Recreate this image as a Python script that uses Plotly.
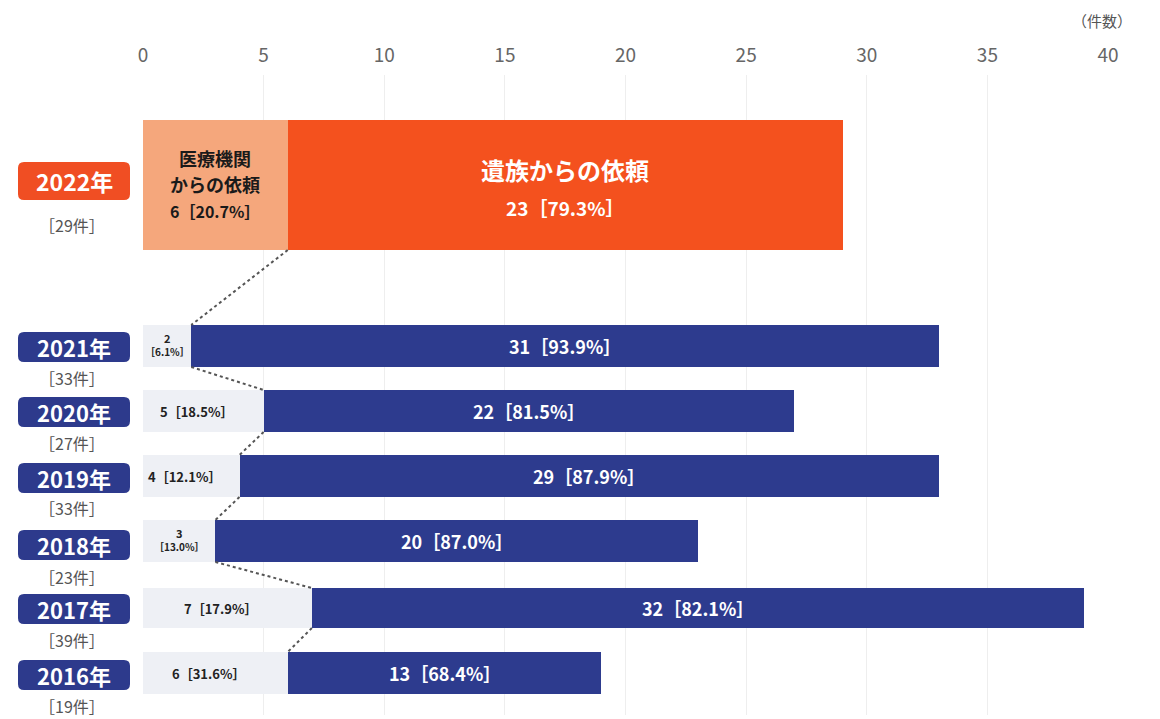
import plotly.graph_objects as go

# ---- data -------------------------------------------------------------
years = ["2022年", "2021年", "2020年", "2019年", "2018年", "2017年", "2016年"]
from_hospital = [6, 2, 5, 4, 3, 7, 6]        # 医療機関からの依頼
from_family = [23, 31, 22, 29, 20, 32, 13]   # 遺族からの依頼
tick_values = [0, 5, 10, 15, 20, 25, 30, 35, 40]

# ---- layout helpers ---------------------------------------------------
W, H = 1160, 719
ML, MR, MT, MB = 143, 52, 75, 4
PW, PH = W - ML - MR, H - MT - MB

row_center = [110, 271, 336, 401, 466, 533, 598]   # y units (reversed axis)
row_width = [130, 42, 42, 42, 42, 40, 42]
light_col = ["#f5a77c"] + ["#eef0f5"] * 6
dark_col = ["#f4511e"] + ["#2d3b8e"] * 6
box_col = ["#f04e23"] + ["#2d3a8c"] * 6
box_center = [181, 347, 412, 478, 545, 609, 675]   # page pixels
sub_center = [225, 378, 443, 508, 577, 640, 706]
FONT = "Noto Sans CJK JP"


def px(x):
    return (x - ML) / PW


def py(y):
    return 1 - (y - MT) / PH


def label(x, y, text, size, color, xref="x", yref="y"):
    return dict(x=x, y=y, xref=xref, yref=yref, showarrow=False, text=text,
                xanchor="center", yanchor="middle",
                font=dict(size=size, color=color, family=FONT))


totals = [a + b for a, b in zip(from_hospital, from_family)]

fig = go.Figure()
fig.add_trace(go.Bar(
    y=row_center, x=from_hospital, orientation="h", width=row_width,
    marker=dict(color=light_col, line=dict(width=0)), hoverinfo="skip",
    name="医療機関からの依頼"))
fig.add_trace(go.Bar(
    y=row_center, x=from_family, orientation="h", width=row_width,
    marker=dict(color=dark_col, line=dict(width=0)), hoverinfo="skip",
    name="遺族からの依頼"))

ann = []
shapes = []

for i, yr in enumerate(years):
    h, f, t = from_hospital[i], from_family[i], totals[i]
    ph, pf = f"{h / t * 100:.1f}%", f"{f / t * 100:.1f}%"
    yc = row_center[i]
    if i == 0:
        ann.append(label(h / 2, yc - 27, "<b>医療機関</b>", 18, "#1a1a1a"))
        ann.append(label(h / 2, yc - 1, "<b>からの依頼</b>", 18, "#1a1a1a"))
        ann.append(label(h / 2, yc + 26, f"<b>{h}［{ph}］</b>", 16, "#1a1a1a"))
        ann.append(label(h + f / 2, yc - 16, "<b>遺族からの依頼</b>", 24, "white"))
        ann.append(label(h + f / 2, yc + 22, f"<b>{f}［{pf}］</b>", 19, "white"))
    else:
        if h <= 3:
            ann.append(label(h / 2, yc - 8, f"<b>{h}</b>", 11, "#222"))
            ann.append(label(h / 2, yc + 5, f"<b>［{ph}］</b>", 10, "#222"))
        else:
            ann.append(label(h / 2 - 0.3, yc, f"<b>{h}［{ph}］</b>", 13, "#222"))
        ann.append(label(h + f / 2, yc, f"<b>{f}［{pf}］</b>", 18, "white"))

    # rounded year badge
    bh = 38 if i == 0 else 30
    x0, x1 = px(18), px(130)
    y0, y1 = py(box_center[i] - bh / 2), py(box_center[i] + bh / 2)
    rx, ry = 6 / PW, 6 / PH
    path = (f"M {x0 + rx},{y0} L {x1 - rx},{y0} Q {x1},{y0} {x1},{y0 - ry} "
            f"L {x1},{y1 + ry} Q {x1},{y1} {x1 - rx},{y1} L {x0 + rx},{y1} "
            f"Q {x0},{y1} {x0},{y1 + ry} L {x0},{y0 - ry} Q {x0},{y0} {x0 + rx},{y0} Z")
    shapes.append(dict(type="path", path=path, xref="paper", yref="paper",
                       fillcolor=box_col[i], line=dict(width=0), layer="above"))
    ann.append(label(px(74), py(box_center[i]), f"<b>{yr}</b>",
                     23 if i == 0 else 22, "white", "paper", "paper"))
    ann.append(label(px(72), py(sub_center[i]), f"［{t}件］", 16, "#555",
                     "paper", "paper"))

# dotted connectors between the boundary of the two segments
for i in range(len(years) - 1):
    shapes.append(dict(type="line", xref="x", yref="y",
                       x0=from_hospital[i], y0=row_center[i] + row_width[i] / 2,
                       x1=from_hospital[i + 1], y1=row_center[i + 1] - row_width[i + 1] / 2,
                       line=dict(color="#555", width=2, dash="dot"), layer="above"))

ann.append(label(px(1102), py(20), "（件数）", 15, "#555", "paper", "paper"))

fig.update_layout(
    width=W, height=H,
    margin=dict(l=ML, r=MR, t=MT, b=MB),
    barmode="stack", bargap=0,
    showlegend=False,
    plot_bgcolor="white", paper_bgcolor="white",
    xaxis=dict(side="top", range=[0, 40], tickvals=tick_values,
               showgrid=True, gridcolor="#eeeeee", gridwidth=1, zeroline=False,
               showline=False, ticks="", ticklabelstandoff=8,
               tickfont=dict(size=19, color="#666", family=FONT), fixedrange=True),
    yaxis=dict(range=[PH, 0], visible=False, fixedrange=True),
    annotations=ann, shapes=shapes,
    font=dict(family=FONT),
)

fig.write_html("out.html")
